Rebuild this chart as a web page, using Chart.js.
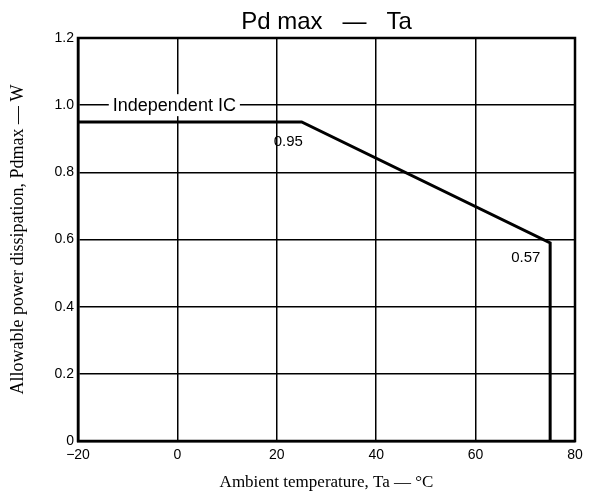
<!DOCTYPE html>
<html>
<head>
<meta charset="utf-8">
<script src="https://cdn.jsdelivr.net/npm/chart.js@4"></script>
<style>
html,body{margin:0;padding:0;background:#fff;}
#wrap{width:592px;height:493px;}
</style>
</head>
<body>
<div id="wrap"><canvas id="c" width="592" height="493"></canvas></div>
<script>
const temps = [-20, 25, 75, 75];
const power = [0.95, 0.95, 0.59, 0];
const xTicks = [-20, 0, 20, 40, 60, 80];
const yTicks = [0, 0.2, 0.4, 0.6, 0.8, 1.0, 1.2];
const notes = [
  {x: 22.3, y: 0.913, text: '0.95'},
  {x: 70.1, y: 0.569, text: '0.57'}
];
const seriesLabel = 'Independent IC';

const annot = {
  id: 'annot',
  afterDraw(chart) {
    const {ctx, chartArea: a, scales: {x, y}} = chart;
    ctx.save();
    // frame
    ctx.strokeStyle = '#000';
    ctx.lineWidth = 2.5;
    ctx.strokeRect(a.left, a.top, a.right - a.left, a.bottom - a.top);
    // series label with white background
    ctx.font = '18px "Liberation Sans", Arial, sans-serif';
    ctx.textBaseline = 'middle';
    ctx.textAlign = 'left';
    const ly = y.getPixelForValue(1.0);
    const lx = x.getPixelForValue(-13.0);
    const w = ctx.measureText(seriesLabel).width;
    ctx.fillStyle = '#fff';
    ctx.fillRect(lx - 4, ly - 11, w + 8, 22);
    ctx.fillStyle = '#000';
    ctx.fillText(seriesLabel, lx, ly + 1);
    // value notes
    ctx.textAlign = 'center';
    ctx.textBaseline = 'top';
    ctx.font = '15px "Liberation Sans", Arial, sans-serif';
    notes.forEach(n => {
      ctx.fillText(n.text, x.getPixelForValue(n.x), y.getPixelForValue(n.y));
    });
    ctx.restore();
  }
};

new Chart(document.getElementById('c'), {
  type: 'scatter',
  data: {
    datasets: [{
      label: seriesLabel,
      data: temps.map((t, i) => ({x: t, y: power[i]})),
      showLine: true,
      borderColor: '#000',
      borderWidth: 3,
      pointRadius: 0,
      fill: false,
      tension: 0
    }]
  },
  options: {
    responsive: false,
    animation: false,
    layout: {padding: {left: 0, right: 17, top: 0, bottom: 0}},
    plugins: {
      legend: {display: false},
      tooltip: {enabled: false},
      title: {
        display: true,
        fullSize: false,
        text: 'Pd max   —   Ta',
        color: '#000',
        font: {family: '"Liberation Sans", Arial, sans-serif', size: 24, weight: 'normal', lineHeight: 1.2},
        padding: {top: 8, bottom: 1.2}
      }
    },
    scales: {
      x: {
        type: 'linear',
        min: -20, max: 80,
        afterBuildTicks: s => { s.ticks = xTicks.map(v => ({value: v})); },
        afterFit: s => { s.height = 52; },
        grid: {color: '#000', lineWidth: 1.5, drawTicks: false},
        border: {color: '#000', width: 2.5},
        ticks: {
          color: '#000', padding: 6,
          font: {family: '"Liberation Sans", Arial, sans-serif', size: 14},
          callback: v => v < 0 ? '\u2212' + Math.abs(v) : String(v)
        },
        title: {
          display: true,
          text: 'Ambient temperature, Ta — °C',
          color: '#000',
          font: {family: '"Liberation Serif", "Times New Roman", serif', size: 17},
          padding: {top: 2, bottom: 0}
        }
      },
      y: {
        type: 'linear',
        min: 0, max: 1.2,
        afterBuildTicks: s => { s.ticks = yTicks.map(v => ({value: v})); },
        afterFit: s => { s.width = 78; },
        grid: {color: '#000', lineWidth: 1.5, drawTicks: false},
        border: {color: '#000', width: 2.5},
        ticks: {
          color: '#000', padding: 4,
          font: {family: '"Liberation Sans", Arial, sans-serif', size: 14},
          callback: v => v === 0 ? '0' : v.toFixed(1)
        },
        title: {
          display: true,
          text: 'Allowable power dissipation, Pdmax — W',
          color: '#000',
          font: {family: '"Liberation Serif", "Times New Roman", serif', size: 18},
          padding: {top: 7, bottom: 4}
        }
      }
    }
  },
  plugins: [annot]
});
</script>
</body>
</html>
